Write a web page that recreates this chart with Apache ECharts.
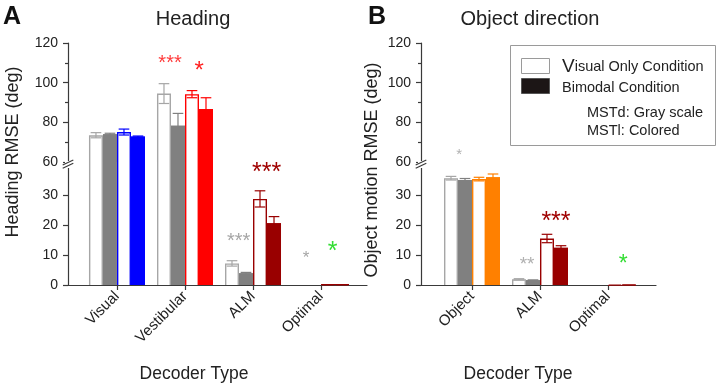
<!DOCTYPE html>
<html>
<head>
<meta charset="utf-8">
<script src="https://cdn.jsdelivr.net/npm/echarts@6/dist/echarts.min.js"></script>
<style>
  html, body { margin: 0; padding: 0; background: #fff; }
  #chart { width: 717px; height: 386px; }
</style>
</head>
<body>
<div id="chart"></div>
<script>
// ---- Panel A: heading ----
const headingCats = ['Visual', 'Vestibular', 'ALM', 'Optimal'];
const headingMstdVis = [73.5, 94.5, 7.2, 0];
const headingMstdVisErr = [1.3, 5.0, 0.9, 0];
const headingMstdBi = [74.0, 78.3, 3.9, 0];
const headingMstdBiErr = [0.5, 6.2, 0.3, 0];
const headingMstlVis = [75.1, 94.2, 28.7, 0.3];
const headingMstlVisErr = [1.5, 1.8, 2.7, 0];
const headingMstlBi = [72.8, 86.7, 20.6, 0.3];
const headingMstlBiErr = [0.3, 5.7, 2.2, 0];

// significance stars, panel A (x in category units, y in deg)
const headingStarText = ['***', '*', '***', '***', '*', '*'];
const headingStarX = [0.78, 1.21, 2.2, 1.79, 2.78, 3.17];
const headingStarY = [112.1, 108.3, 39.3, 16.2, 10.3, 12.8];

// ---- Panel B: object direction ----
const objectCats = ['Object', 'ALM', 'Optimal'];
const objectMstdVis = [35.6, 1.9, 0];
const objectMstdVisErr = [0.6, 0.2, 0];
const objectMstdBi = [35.0, 1.6, 0];
const objectMstdBiErr = [0.5, 0.1, 0];
const objectMstlVis = [35.3, 15.5, 0.2];
const objectMstlVisErr = [0.6, 1.4, 0];
const objectMstlBi = [35.9, 12.4, 0.2];
const objectMstlBiErr = [1.1, 0.7, 0];

const objectStarText = ['*', '**', '***', '*'];
const objectStarX = [-0.19, 0.81, 1.235, 2.225];
const objectStarY = [65.2, 8.1, 23, 8.7];

// axis ticks
const upperTicks = [60, 80, 100, 120];
const lowerTicks = [0, 10, 20, 30];
const lowerMinorTicks = [5, 15, 25, 35];

// ---- styles ----
const FONT = '"Liberation Sans", Arial, sans-serif';
const GRAY_LINE = '#a6a6a6';
const GRAY_FILL = '#808080';
const AXIS = '#3a3a3a';
const headingMstlColors = ['#0000ff', '#ff0000', '#990000', '#990000'];
const objectMstlColors = ['#ff8000', '#990000', '#990000'];
const headingStarColor = ['#ff3b3b', '#ff2020', '#a00000', '#a6a6a6', '#a6a6a6', '#33dd33'];
const headingStarSize = [20, 24, 25, 20, 17, 25];
const objectStarColor = ['#b0b0b0', '#b0b0b0', '#a00000', '#33dd33'];
const objectStarSize = [15, 19, 25, 23];

const UPPER_MIN = 60, UPPER_MAX = 120, LOWER_MAX = 41;
const BAR_FRAC = 14 / 68;

function barItems(sets) {
  const out = [];
  sets[0][0].forEach((_, i) => {
    sets.forEach(([vals, errs], slot) => out.push([i, slot, vals[i], errs[i]]));
  });
  return out;
}

function barRenderer(colors, isUpper) {
  return function (params, api) {
    const cat = api.value(0), slot = api.value(1), v = api.value(2), e = api.value(3);
    if (v <= 0) return null;
    if (isUpper && v <= UPPER_MIN) return null;
    const lo = isUpper ? UPPER_MIN : 0;
    const hi = isUpper ? UPPER_MAX : LOWER_MAX;
    const bw = api.size([1, 0])[0] * BAR_FRAC;
    const cx = api.coord([cat, lo])[0];
    const x0 = cx + (slot - 2) * bw, x1 = x0 + bw;
    const yb = api.coord([cat, lo])[1];
    const yt = api.coord([cat, Math.min(v, hi)])[1];
    const filled = slot % 2 === 1;
    const color = slot < 2 ? (filled ? GRAY_FILL : GRAY_LINE) : colors[cat];
    const lw = 1.4, h = lw / 2;
    const children = [{
      type: 'rect',
      shape: { x: x0, y: yt, width: bw, height: yb - yt },
      style: { fill: filled ? color : '#fff' }
    }];
    const topShown = v <= hi;
    if (topShown) {
      children.push({
        type: 'polyline',
        shape: { points: [[x0 + h, yb], [x0 + h, yt + h], [x1 - h, yt + h], [x1 - h, yb]] },
        style: { stroke: color, lineWidth: lw, fill: null }
      });
    } else {
      children.push({ type: 'line', shape: { x1: x0 + h, y1: yb, x2: x0 + h, y2: yt }, style: { stroke: color, lineWidth: lw } });
      children.push({ type: 'line', shape: { x1: x1 - h, y1: yb, x2: x1 - h, y2: yt }, style: { stroke: color, lineWidth: lw } });
    }
    if (topShown && e > 0) {
      const ya = api.coord([cat, v + e])[1], yz = api.coord([cat, v - e])[1];
      const mx = (x0 + x1) / 2, cw = bw * 0.38;
      const s = { stroke: color, lineWidth: 1.2 };
      children.push({ type: 'line', shape: { x1: mx, y1: ya, x2: mx, y2: yz }, style: s });
      children.push({ type: 'line', shape: { x1: mx - cw, y1: ya, x2: mx + cw, y2: ya }, style: s });
      children.push({ type: 'line', shape: { x1: mx - cw, y1: yz, x2: mx + cw, y2: yz }, style: s });
    }
    return { type: 'group', children };
  };
}

function starSeries(xs, ys, texts, colors, sizes, upper, xIdx, yIdx) {
  const data = [];
  xs.forEach((x, i) => { if ((ys[i] >= UPPER_MIN) === upper) data.push([x, ys[i], i]); });
  return {
    type: 'custom', xAxisIndex: xIdx, yAxisIndex: yIdx, clip: false, z: 5,
    data,
    renderItem: (params, api) => {
      const i = api.value(2);
      const p = api.coord([api.value(0), api.value(1)]);
      return {
        type: 'text', x: p[0], y: p[1] + sizes[i] * 0.235,
        style: { text: texts[i], fill: colors[i], fontSize: sizes[i], fontFamily: FONT, align: 'center', verticalAlign: 'middle' }
      };
    }
  };
}

const headingBars = barItems([
  [headingMstdVis, headingMstdVisErr], [headingMstdBi, headingMstdBiErr],
  [headingMstlVis, headingMstlVisErr], [headingMstlBi, headingMstlBiErr]
]);
const objectBars = barItems([
  [objectMstdVis, objectMstdVisErr], [objectMstdBi, objectMstdBiErr],
  [objectMstlVis, objectMstlVisErr], [objectMstlBi, objectMstlBiErr]
]);

const axisLine = { show: true, onZero: false, lineStyle: { color: AXIS, width: 1.2 } };
const tickStyle = { lineStyle: { color: AXIS, width: 1.2 } };
const labelStyle = { color: '#222', fontSize: 14, fontFamily: FONT };

function xAxes(grid, min, max, cats, shown) {
  const vals = cats.map((_, i) => i);
  return {
    type: 'value', gridIndex: grid, min, max, show: shown,
    splitLine: { show: false },
    axisLine,
    axisTick: { show: true, length: 5, customValues: vals, ...tickStyle },
    axisLabel: {
      show: true, customValues: vals, formatter: v => cats[v], rotate: 45, margin: 9, ...labelStyle, fontSize: 15
    }
  };
}

function upperY(grid) {
  return {
    type: 'value', gridIndex: grid, min: UPPER_MIN, max: UPPER_MAX, interval: 20,
    splitLine: { show: false }, axisLine,
    axisTick: { show: true, length: 5, customValues: upperTicks, ...tickStyle },
    minorTick: { show: true, splitNumber: 2, length: 3, ...tickStyle },
    axisLabel: { margin: 10, customValues: upperTicks, ...labelStyle }
  };
}
function lowerY(grid) {
  return {
    type: 'value', gridIndex: grid, min: 0, max: LOWER_MAX,
    splitLine: { show: false }, axisLine,
    axisTick: { show: true, length: 5, customValues: lowerTicks, ...tickStyle },
    axisLabel: { margin: 10, customValues: lowerTicks, ...labelStyle }
  };
}
function lowerMinorY(grid) {
  return {
    type: 'value', gridIndex: grid, min: 0, max: LOWER_MAX,
    splitLine: { show: false }, axisLine: { show: false },
    axisTick: { show: true, length: 3, customValues: lowerMinorTicks, ...tickStyle },
    axisLabel: { show: false }
  };
}

const A_MIN = -0.72, A_MAX = 3.676, B_MIN = -0.75, B_MAX = 2.706;

const chart = echarts.init(document.getElementById('chart'));
chart.setOption({
  animation: false,
  backgroundColor: '#fff',
  grid: [
    { left: 68, top: 43, width: 299, height: 119, outerBoundsMode: 'none' },
    { left: 68, top: 162, width: 299, height: 123, outerBoundsMode: 'none' },
    { left: 421, top: 43, width: 235, height: 119, outerBoundsMode: 'none' },
    { left: 421, top: 162, width: 235, height: 123, outerBoundsMode: 'none' }
  ],
  xAxis: [
    xAxes(0, A_MIN, A_MAX, headingCats, false),
    xAxes(1, A_MIN, A_MAX, headingCats, true),
    xAxes(2, B_MIN, B_MAX, objectCats, false),
    xAxes(3, B_MIN, B_MAX, objectCats, true)
  ],
  yAxis: [
    upperY(0), lowerY(1), lowerMinorY(1),
    upperY(2), lowerY(3), lowerMinorY(3)
  ],
  series: [
    { type: 'custom', xAxisIndex: 0, yAxisIndex: 0, data: headingBars, renderItem: barRenderer(headingMstlColors, true) },
    { type: 'custom', xAxisIndex: 1, yAxisIndex: 1, data: headingBars, renderItem: barRenderer(headingMstlColors, false) },
    { type: 'custom', xAxisIndex: 2, yAxisIndex: 3, data: objectBars, renderItem: barRenderer(objectMstlColors, true) },
    { type: 'custom', xAxisIndex: 3, yAxisIndex: 4, data: objectBars, renderItem: barRenderer(objectMstlColors, false) },
    starSeries(headingStarX, headingStarY, headingStarText, headingStarColor, headingStarSize, true, 0, 0),
    starSeries(headingStarX, headingStarY, headingStarText, headingStarColor, headingStarSize, false, 1, 1),
    starSeries(objectStarX, objectStarY, objectStarText, objectStarColor, objectStarSize, true, 2, 3),
    starSeries(objectStarX, objectStarY, objectStarText, objectStarColor, objectStarSize, false, 3, 4)
  ]
});

// texts, legend box and the axis break marks
function txt(text, x, y, size, extra) {
  return {
    type: 'text', x, y, z: 10,
    style: Object.assign({ text, fontSize: size, fontFamily: FONT, fill: '#222', align: 'center', verticalAlign: 'middle' }, extra || {})
  };
}
function breakMark(yAxisIndex, xAxisIndex, xmin) {
  const ax = chart.convertToPixel({ xAxisIndex }, xmin);
  const yb = chart.convertToPixel({ yAxisIndex }, UPPER_MIN);
  const s = { stroke: AXIS, lineWidth: 1.2 };
  return [
    { type: 'rect', z: 10, shape: { x: ax - 3, y: yb - 1, width: 6, height: 7 }, style: { fill: '#fff' } },
    { type: 'line', z: 11, shape: { x1: ax - 5.3, y1: yb + 3, x2: ax + 5.3, y2: yb - 2 }, style: s },
    { type: 'line', z: 11, shape: { x1: ax - 5.3, y1: yb + 6.3, x2: ax + 5.3, y2: yb + 1.3 }, style: s }
  ];
}

const legendText = { fontSize: 14.5, align: 'left', fill: '#222' };
chart.setOption({
  graphic: [
    txt('A', 12, 17, 25, { fontWeight: 'bold', fill: '#111' }),
    txt('B', 377, 17, 25, { fontWeight: 'bold', fill: '#111' }),
    txt('Heading', 193, 19, 20),
    txt('Object direction', 530, 19, 20),
    txt('Decoder Type', 194, 374, 17.5),
    txt('Decoder Type', 518, 374, 17.5),
    Object.assign(txt('Heading RMSE (deg)', 13, 152, 18), { rotation: Math.PI / 2 }),
    Object.assign(txt('Object motion RMSE (deg)', 372, 170, 18), { rotation: Math.PI / 2 }),
    { type: 'rect', z: 9, shape: { x: 510.5, y: 45.5, width: 205, height: 100 }, style: { fill: '#fff', stroke: '#9a9a9a', lineWidth: 1 } },
    { type: 'rect', z: 10, shape: { x: 521.5, y: 58.5, width: 28, height: 15 }, style: { fill: '#fff', stroke: '#9a9a9a', lineWidth: 1 } },
    { type: 'rect', z: 10, shape: { x: 521.5, y: 78.5, width: 28, height: 15 }, style: { fill: '#1c1616', stroke: '#555', lineWidth: 1 } },
    txt('{v|V}isual Only Condition', 562, 67, 14.5, Object.assign({}, legendText, { rich: { v: { fontSize: 19, fontFamily: FONT, fill: '#222' } } })),
    txt('Bimodal Condition', 562, 88, 14.5, legendText),
    txt('MSTd: Gray scale', 587, 113, 14.5, legendText),
    txt('MSTl: Colored', 587, 131, 14.5, legendText),
    ...breakMark(0, 0, A_MIN),
    ...breakMark(3, 2, B_MIN)
  ]
});
</script>
</body>
</html>
